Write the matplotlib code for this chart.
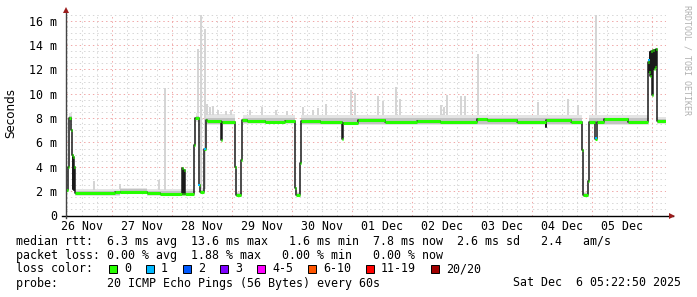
import matplotlib
matplotlib.use('Agg')
import matplotlib.pyplot as plt
from matplotlib.patches import Rectangle
import numpy as np

W, H = 697, 297

# median rtt, hours since 26 Nov 00:00 -> ms (value holds until next point)
med_hours = [5.4, 6.2, 6.6, 7.72, 8.0, 8.24, 8.48, 8.72, 8.96, 9.16, 25.2, 27.2, 38.0, 43.2,
             52.0, 52.52, 52.8, 53.08, 56.92, 57.32, 58.68, 58.92, 59.2, 60.92, 61.44, 62.0,
             67.6, 68.0, 73.32, 73.6, 75.72, 76.0, 78.0, 85.2, 93.2, 97.32, 97.72, 99.0, 99.4,
             107.2, 116.0, 116.52, 122.4, 133.2, 146.0, 155.2, 170.0, 174.0, 186.0, 197.4,
             197.68, 207.48, 212.12, 212.4, 214.4, 214.68, 217.08, 217.8, 220.8, 230.4,
             238.52, 238.8, 239.08, 239.32, 239.6, 239.88, 240.12, 240.52, 240.8, 241.08,
             241.32, 241.6, 241.88, 242.12, 245.4]
med_ms = [2.1, 4.0, 8.0, 7.0, 5.0, 2.2, 4.8, 2.1, 4.0, 1.82, 1.9, 1.97, 1.85, 1.8,
          3.9, 1.8, 3.7, 1.78, 5.8, 8.0, 6.9, 2.5, 1.96, 5.5, 7.85, 7.75,
          6.2, 7.65, 4.0, 1.68, 4.6, 7.85, 7.8, 7.7, 7.75, 2.3, 1.68, 4.3, 7.8,
          7.7, 6.3, 7.6, 7.85, 7.65, 7.8, 7.7, 7.95, 7.85, 7.7, 7.3,
          7.85, 7.65, 5.4, 1.68, 2.8, 7.7, 6.3, 7.7, 7.9, 7.7,
          12.6, 11.8, 13.4, 11.5, 13.5, 12.0, 9.9, 13.6, 12.0, 13.6,
          12.2, 13.7, 8.5, 7.75, 7.75]

# smoke bands (start h, end h, outer low/high, inner low/high)
smoke_start = [6.6, 9.2, 27.2, 38.0, 57.4, 59.2, 61.4, 73.6, 76.2, 97.8, 99.4, 212.4, 214.8, 242.0]
smoke_end = [7.8, 27.2, 38.0, 56.8, 58.6, 60.9, 73.2, 75.8, 97.2, 99.0, 212.0, 214.4, 238.4, 245.4]
smoke_lo = [7.7, 1.62, 1.78, 1.62, 7.7, 1.75, 7.45, 1.55, 7.5, 1.55, 7.45, 1.55, 7.45, 7.5]
smoke_hi = [8.4, 2.15, 2.3, 2.15, 8.4, 2.25, 8.35, 1.95, 8.25, 1.95, 8.25, 1.95, 8.3, 8.1]
core_lo = [7.85, 1.72, 1.88, 1.72, 7.85, 1.85, 7.55, 1.6, 7.6, 1.6, 7.55, 1.6, 7.55, 7.6]
core_hi = [8.15, 2.02, 2.15, 2.0, 8.15, 2.1, 8.05, 1.85, 8.02, 1.85, 8.02, 1.85, 8.05, 7.95]

# single high rtt samples
spike_hours = [45.0, 58.2, 59.4, 61.1, 119.5, 121.2, 130.2, 132.2, 137.6, 139.2, 109.6,
               158.1, 163.5, 165.1, 170.5, 194.5, 206.4, 210.4, 217.6,
               16.7, 42.7, 27.2, 62.0, 63.2, 64.4, 66.4, 69.6, 71.6, 79.2, 84.0, 89.6,
               94.0, 100.4, 104.4, 106.4, 155.6, 156.8]
spike_base = [2.1, 8.4, 2.2, 2.2, 8.3, 8.3, 8.3, 8.3, 8.3, 8.3, 8.3,
              8.3, 8.3, 8.3, 8.3, 8.3, 8.3, 8.3, 8.3,
              2.1, 2.1, 2.2, 8.3, 8.3, 8.3, 8.3, 8.3, 8.3, 8.3, 8.3, 8.3,
              8.3, 8.3, 8.3, 8.3, 8.3, 8.3]
spike_top = [10.5, 13.7, 16.5, 15.3, 10.3, 10.1, 9.8, 9.4, 10.6, 9.6, 9.2,
             9.9, 9.8, 9.85, 13.3, 9.3, 9.6, 9.1, 16.5,
             2.8, 2.9, 2.6, 9.2, 8.9, 9.0, 8.7, 8.6, 8.7, 8.7, 8.9, 8.7,
             8.6, 8.9, 8.7, 8.8, 9.1, 8.9]

# samples with 1 lost ping
loss1_hours = [58.9, 61.2, 217.6, 238.8]
loss1_ms = [2.5, 5.5, 6.4, 12.8]

day_labels = ['26 Nov', '27 Nov', '28 Nov', '29 Nov', '30 Nov',
              '01 Dec', '02 Dec', '03 Dec', '04 Dec', '05 Dec']
y_ticks = [0, 2, 4, 6, 8, 10, 12, 14, 16]
y_labels = ['0', '2 m', '4 m', '6 m', '8 m', '10 m', '12 m', '14 m', '16 m']

loss_labels = ['0', '1', '2', '3', '4-5', '6-10', '11-19', '20/20']
loss_colors = ['#26ff00', '#00b8ff', '#0059ff', '#7e00ff', '#ff00ff',
               '#ff5500', '#ff0000', '#a00000']

stats_line = 'median rtt:  6.3 ms avg  13.6 ms max   1.6 ms min  7.8 ms now  2.6 ms sd   2.4   am/s'
loss_line = 'packet loss: 0.00 % avg  1.88 % max   0.00 % min   0.00 % now'
probe_line = 'probe:       20 ICMP Echo Pings (56 Bytes) every 60s'
stamp = 'Sat Dec  6 05:22:50 2025'

plt.rcParams['font.family'] = 'DejaVu Sans Mono'
plt.rcParams['font.size'] = 8.4

fig = plt.figure(figsize=(W / 100, H / 100), dpi=100)
fig.patch.set_facecolor('white')

left, right_px, bottom_px, top_px = 65.5, 665.5, 215.5, 14.0
ax = fig.add_axes([left / W, (H - bottom_px) / H, (right_px - left) / W, (bottom_px - top_px) / H])
ax.set_xlim(5.4, 245.4)
ax.set_ylim(0, 16.56)
for s in ax.spines.values():
    s.set_visible(False)

# grid
dot = (0, (1.4, 3))
for hh in np.arange(6, 246, 6):
    if hh % 24 == 0:
        ax.axvline(hh, color='#f0a8a8', lw=0.72, ls=dot, zorder=0)
    else:
        ax.axvline(hh, color='#d6d6d6', lw=0.72, ls=dot, zorder=0)
for yy in np.arange(0.5, 16.6, 0.5):
    if yy % 2 == 0:
        ax.axhline(yy, color='#f0a8a8', lw=0.72, ls=dot, zorder=0)
    else:
        ax.axhline(yy, color='#d6d6d6', lw=0.72, ls=dot, zorder=0)

# smoke
widths = [e - s for s, e in zip(smoke_start, smoke_end)]
ax.bar(smoke_start, [h - l for l, h in zip(smoke_lo, smoke_hi)], width=widths,
       bottom=smoke_lo, align='edge', color='#e4e4e4', lw=0, zorder=1)
ax.bar(smoke_start, [h - l for l, h in zip(core_lo, core_hi)], width=widths,
       bottom=core_lo, align='edge', color='#c2c2c2', lw=0, zorder=1)
ax.vlines(spike_hours, spike_base, spike_top, colors='#d4d4d4', lw=1.4, zorder=1)

# median
ax.step(med_hours, med_ms, where='post', color='#1a1a1a', lw=1.1, zorder=3)
ax.hlines(med_ms[:-1], med_hours[:-1], med_hours[1:], colors=loss_colors[0],
          lw=2.2, zorder=4)
ax.plot(loss1_hours, loss1_ms, 's', color=loss_colors[1], ms=2, mew=0, zorder=5)

# axes lines and arrows
ax.plot([-0.006, 1.012], [0, 0], color='black', lw=1, transform=ax.transAxes, clip_on=False, zorder=6)
ax.plot([0, 0], [-0.012, 1.02], color='#444444', lw=1, transform=ax.transAxes, clip_on=False, zorder=6)
ax.plot([1.01], [0], marker='>', color='#9b1c1c', ms=5, mew=0, transform=ax.transAxes, clip_on=False, zorder=7)
ax.plot([0], [1.02], marker='^', color='#9b1c1c', ms=5, mew=0, transform=ax.transAxes, clip_on=False, zorder=7)

# ticks
ax.set_yticks(y_ticks)
ax.set_yticklabels(y_labels)
ax.set_xticks(np.arange(12, 240, 24))
ax.set_xticklabels(day_labels)
ax.tick_params(axis='both', length=0)
ax.tick_params(axis='y', pad=6)
ax.tick_params(axis='x', pad=3.5)

fig.text(11 / W, 1 - 113 / H, 'Seconds', rotation=90, ha='center', va='center',
         family='DejaVu Sans', fontsize=8.6)
fig.text(687 / W, 1 - 60 / H, 'RRDTOOL / TOBI OETIKER', rotation=270, ha='center',
         va='center', fontsize=6, color='#b0b0b0')

# legend text
def fx(x):
    return x / W

def fy(y):
    return 1 - y / H

fig.text(fx(16), fy(241), stats_line, va='center')
fig.text(fx(16), fy(255), loss_line, va='center')
fig.text(fx(16), fy(269), 'loss color:', va='center')
bx = 109
for lab, col in zip(loss_labels, loss_colors):
    fig.patches.append(Rectangle((fx(bx), fy(273)), 8 / W, 8 / H, transform=fig.transFigure,
                                 facecolor=col, edgecolor='black', lw=0.7))
    fig.text(fx(bx + 15), fy(269), lab, va='center')
    bx += 7 * len(lab) + 30
fig.text(fx(16), fy(283), probe_line, va='center')
fig.text(fx(681), fy(283), stamp, va='center', ha='right')

fig.savefig('out.png', dpi=100, facecolor='white')
